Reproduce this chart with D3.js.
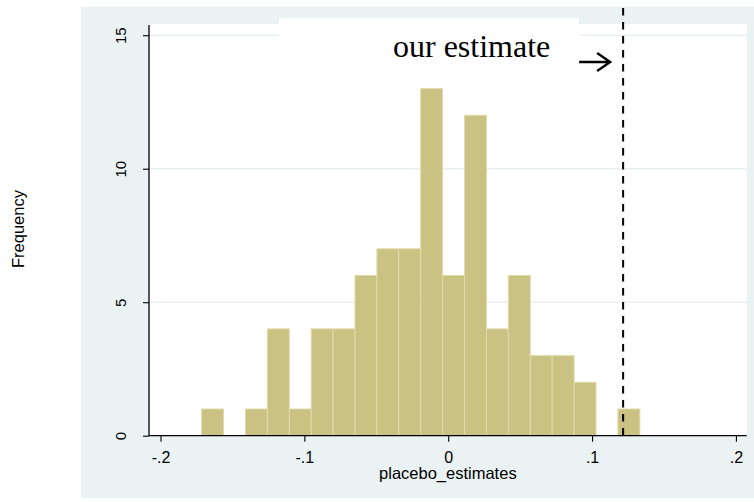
<!DOCTYPE html>
<html>
<head>
<meta charset="utf-8">
<script src="https://cdn.jsdelivr.net/npm/d3@7"></script>
<style>
  body { margin: 0; background: #fff; }
  svg { display: block; }
</style>
</head>
<body>
<svg id="chart" width="754" height="502"></svg>
<script>
// histogram bins (Stata style: start + width, 20 bins)
let binStart = -0.1714;
let binWidth = 0.01523;
let counts = [1, 0, 1, 4, 1, 4, 4, 6, 7, 7, 13, 6, 12, 4, 6, 3, 3, 2, 0, 1];
let xTicks = [-0.2, -0.1, 0, 0.1, 0.2];
let xTickLabels = ["-.2", "-.1", "0", ".1", ".2"];
let yTicks = [0, 5, 10, 15];
let ourEstimate = 0.1216;

let svg = d3.select("#chart");

let plotLeft = 149, plotRight = 746.7, plotTop = 24, plotBottom = 435.7;

let xScale = d3.scaleLinear().domain([-0.208, 0.2075]).range([plotLeft, plotRight]);
let yScale = d3.scaleLinear().domain([0, 15.42]).range([plotBottom, plotTop]);

// graph region background
svg.append("rect").attr("x", 81).attr("y", 7).attr("width", 754 - 81).attr("height", 491)
  .attr("fill", "#eaf2f3");

// plot region
svg.append("rect").attr("x", plotLeft).attr("y", plotTop)
  .attr("width", plotRight - plotLeft).attr("height", plotBottom - plotTop)
  .attr("fill", "#fff");

// grid lines
svg.selectAll(".grid").data(yTicks.filter(d => d > 0)).enter().append("line")
  .attr("x1", plotLeft).attr("x2", plotRight)
  .attr("y1", d => yScale(d)).attr("y2", d => yScale(d))
  .attr("stroke", "#e8f0f1").attr("stroke-width", 1.5);

// white box behind the label
svg.append("rect").attr("x", 279).attr("y", 18).attr("width", 300).attr("height", 60)
  .attr("fill", "#fff");

// bars
let bins = counts.map((c, i) => ({ x0: binStart + i * binWidth, x1: binStart + (i + 1) * binWidth, n: c }));
svg.selectAll(".bar").data(bins.filter(d => d.n > 0)).enter().append("rect")
  .attr("class", "bar")
  .attr("x", d => xScale(d.x0))
  .attr("width", d => xScale(d.x1) - xScale(d.x0))
  .attr("y", d => yScale(d.n))
  .attr("height", d => yScale(0) - yScale(d.n))
  .attr("fill", "#cac283")
  .attr("stroke", "#e0dba8")
  .attr("stroke-width", 1);

// x axis
let xAxis = d3.axisBottom(xScale).tickValues(xTicks).tickFormat((d, i) => xTickLabels[i])
  .tickSize(6).tickSizeOuter(0);
let gx = svg.append("g").attr("transform", "translate(0," + plotBottom + ")").call(xAxis);
gx.select(".domain").attr("d", "M" + plotLeft + ",0H" + plotRight).attr("stroke", "#000").attr("stroke-width", 1.3);
gx.selectAll(".tick line").attr("stroke", "#000").attr("stroke-width", 1.1);
gx.selectAll(".tick text").attr("font-family", "Liberation Sans, Arial, sans-serif")
  .attr("font-size", 16).attr("fill", "#000").attr("dy", null).attr("y", 27);

// y axis
let yAxis = d3.axisLeft(yScale).tickValues(yTicks).tickSize(6).tickSizeOuter(0);
let gy = svg.append("g").attr("transform", "translate(" + plotLeft + ",0)").call(yAxis);
gy.select(".domain").attr("d", "M0," + plotBottom + "V" + (plotTop + 1)).attr("stroke", "#000").attr("stroke-width", 1.3);
gy.selectAll(".tick line").attr("stroke", "#000").attr("stroke-width", 1.1);
gy.selectAll(".tick text")
  .attr("font-family", "Liberation Sans, Arial, sans-serif").attr("font-size", 15).attr("fill", "#000")
  .attr("x", null).attr("dy", null)
  .attr("text-anchor", "middle")
  .attr("transform", "translate(-28,0) rotate(-90)")
  .attr("y", 0).attr("dy", "0.36em");

// dashed reference line
svg.append("line")
  .attr("x1", xScale(ourEstimate)).attr("x2", xScale(ourEstimate))
  .attr("y1", 8).attr("y2", plotBottom)
  .attr("stroke", "#000").attr("stroke-width", 2).attr("stroke-dasharray", "7.5,6.5");

// annotation
svg.append("text").attr("x", 393).attr("y", 57)
  .attr("font-family", "Liberation Serif, Times New Roman, serif").attr("font-size", 32)
  .attr("fill", "#000").text("our estimate");

// arrow pointing at the estimate line
let ax = xScale(ourEstimate) - 13, ay = 62;
svg.append("path")
  .attr("d", "M" + (ax - 31) + "," + ay + "H" + ax + "M" + (ax - 13) + "," + (ay - 9) + "L" + ax + "," + ay + "L" + (ax - 13) + "," + (ay + 9))
  .attr("fill", "none").attr("stroke", "#000").attr("stroke-width", 2.4);

// axis titles
svg.append("text").attr("x", (plotLeft + plotRight) / 2).attr("y", 479)
  .attr("text-anchor", "middle")
  .attr("font-family", "Liberation Sans, Arial, sans-serif").attr("font-size", 16.5)
  .text("placebo_estimates");
svg.append("text")
  .attr("transform", "translate(24,229) rotate(-90)")
  .attr("text-anchor", "middle")
  .attr("font-family", "Liberation Sans, Arial, sans-serif").attr("font-size", 16.5)
  .text("Frequency");
</script>
</body>
</html>
